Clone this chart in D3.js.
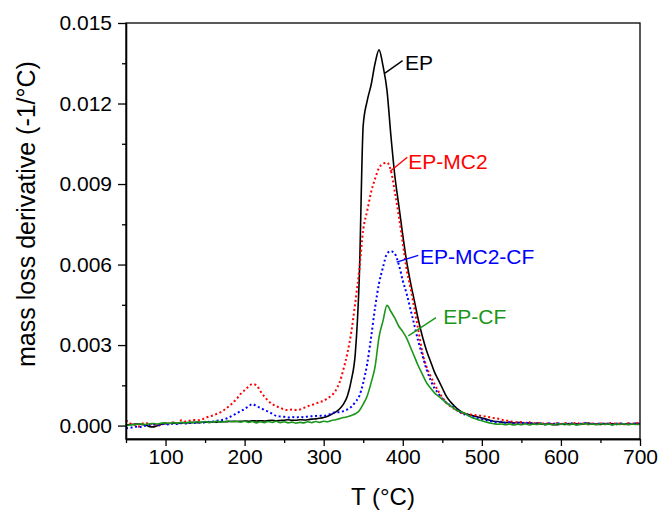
<!DOCTYPE html>
<html>
<head>
<meta charset="utf-8">
<script src="https://cdn.jsdelivr.net/npm/d3@7"></script>
<style>
  body { margin: 0; background: #fff; }
  svg text { font-family: "Liberation Sans", Arial, sans-serif; }
</style>
</head>
<body>
<svg id="chart" width="658" height="512"></svg>
<script>
// temperature grid (°C)
const temps = [
  50, 55, 60, 65, 70, 75, 80, 85, 90, 95,
  100, 105, 110, 115, 120, 125, 130, 135, 140, 145,
  150, 155, 160, 165, 170, 175, 180, 185, 190, 195,
  200, 205, 210, 215, 220, 225, 230, 235, 240, 245,
  250, 255, 260, 265, 270, 275, 280, 285, 290, 295,
  300, 305, 310, 315, 320, 325, 330, 335, 340, 345,
  350, 355, 360, 365, 370, 375, 380, 385, 390, 395,
  400, 405, 410, 415, 420, 425, 430, 435, 440, 445,
  450, 455, 460, 465, 470, 475, 480, 485, 490, 495,
  500, 505, 510, 515, 520, 525, 530, 535, 540, 545,
  550, 555, 560, 565, 570, 575, 580, 585, 590, 595,
  600, 605, 610, 615, 620, 625, 630, 635, 640, 645,
  650, 655, 660, 665, 670, 675, 680, 685, 690, 695,
  700
];

// mass loss derivative (-1/°C), one value per temperature
const ep = [
  0.00002, 0.00004, 0.00005, 0.00006, 0.00004, 0.00002, -0.00004, -0.00005, 0.00000, 0.00005,
  0.00007, 0.00008, 0.00009, 0.00008, 0.00010, 0.00011, 0.00010, 0.00012, 0.00011, 0.00012,
  0.00013, 0.00012, 0.00014, 0.00013, 0.00015, 0.00014, 0.00015, 0.00016, 0.00015, 0.00016,
  0.00017, 0.00016, 0.00018, 0.00017, 0.00018, 0.00017, 0.00019, 0.00020, 0.00018, 0.00019,
  0.00020, 0.00022, 0.00020, 0.00020, 0.00022, 0.00021, 0.00022, 0.00024, 0.00025, 0.00027,
  0.00030, 0.00035, 0.00042, 0.00050, 0.00062, 0.00080, 0.00110, 0.00170, 0.00270, 0.00550,
  0.01120, 0.01210, 0.01270, 0.01350, 0.01400, 0.01340, 0.01250, 0.01080, 0.00930, 0.00820,
  0.00710, 0.00610, 0.00530, 0.00460, 0.00390, 0.00330, 0.00280, 0.00240, 0.00200, 0.00170,
  0.00140, 0.00110, 0.00090, 0.00074, 0.00060, 0.00050, 0.00044, 0.00040, 0.00036, 0.00032,
  0.00028, 0.00024, 0.00020, 0.00016, 0.00015, 0.00013, 0.00011, 0.00012, 0.00010, 0.00011,
  0.00011, 0.00008, 0.00010, 0.00007, 0.00009, 0.00006, 0.00005, 0.00008, 0.00004, 0.00003,
  0.00006, 0.00004, 0.00008, 0.00005, 0.00007, 0.00004, 0.00007, 0.00009, 0.00005, 0.00006,
  0.00004, 0.00008, 0.00005, 0.00007, 0.00004, 0.00006, 0.00005, 0.00007, 0.00005, 0.00008,
  0.00006
];

const epMc2 = [
  0.00020, 0.00008, 0.00004, -0.00004, 0.00006, 0.00010, 0.00005, 0.00008, -0.00002, 0.00006,
  0.00010, 0.00007, 0.00012, 0.00009, 0.00020, 0.00015, 0.00018, 0.00021, 0.00020, 0.00022,
  0.00028, 0.00034, 0.00038, 0.00044, 0.00050, 0.00060, 0.00072, 0.00085, 0.00100, 0.00118,
  0.00132, 0.00145, 0.00155, 0.00150, 0.00128, 0.00108, 0.00092, 0.00080, 0.00072, 0.00066,
  0.00060, 0.00058, 0.00060, 0.00058, 0.00060, 0.00066, 0.00072, 0.00077, 0.00082, 0.00088,
  0.00092, 0.00102, 0.00112, 0.00130, 0.00160, 0.00210, 0.00270, 0.00350, 0.00460, 0.00580,
  0.00730, 0.00800, 0.00870, 0.00920, 0.00960, 0.00975, 0.00980, 0.00950, 0.00870, 0.00780,
  0.00680, 0.00580, 0.00510, 0.00430, 0.00350, 0.00270, 0.00220, 0.00185, 0.00155, 0.00128,
  0.00105, 0.00085, 0.00072, 0.00062, 0.00054, 0.00047, 0.00043, 0.00041, 0.00040, 0.00038,
  0.00036, 0.00034, 0.00031, 0.00028, 0.00026, 0.00022, 0.00019, 0.00017, 0.00014, 0.00012,
  0.00013, 0.00009, 0.00012, 0.00008, 0.00011, 0.00006, 0.00010, 0.00007, 0.00005, 0.00009,
  0.00006, 0.00010, 0.00005, 0.00008, 0.00011, 0.00006, 0.00009, 0.00005, 0.00008, 0.00006,
  0.00009, 0.00005, 0.00008, 0.00010, 0.00006, 0.00008, 0.00005, 0.00009, 0.00007, 0.00010,
  0.00008
];

const epMc2Cf = [
  -0.00010, -0.00008, -0.00006, -0.00003, -0.00005, 0.00000, 0.00002, 0.00004, 0.00001, 0.00005,
  0.00006, 0.00004, 0.00008, 0.00006, 0.00009, 0.00008, 0.00011, 0.00009, 0.00012, 0.00010,
  0.00012, 0.00014, 0.00015, 0.00018, 0.00020, 0.00024, 0.00030, 0.00038, 0.00046, 0.00054,
  0.00062, 0.00072, 0.00080, 0.00072, 0.00066, 0.00058, 0.00052, 0.00044, 0.00036, 0.00034,
  0.00033, 0.00030, 0.00032, 0.00030, 0.00033, 0.00031, 0.00034, 0.00035, 0.00036, 0.00037,
  0.00036, 0.00040, 0.00044, 0.00050, 0.00050, 0.00054, 0.00060, 0.00070, 0.00088, 0.00110,
  0.00160, 0.00230, 0.00330, 0.00440, 0.00530, 0.00590, 0.00640, 0.00650, 0.00640, 0.00600,
  0.00540, 0.00490, 0.00430, 0.00370, 0.00310, 0.00260, 0.00210, 0.00170, 0.00140, 0.00120,
  0.00100, 0.00086, 0.00076, 0.00066, 0.00054, 0.00045, 0.00040, 0.00036, 0.00032, 0.00028,
  0.00024, 0.00020, 0.00017, 0.00015, 0.00012, 0.00014, 0.00010, 0.00012, 0.00008, 0.00011,
  0.00009, 0.00012, 0.00007, 0.00010, 0.00006, 0.00009, 0.00004, 0.00008, 0.00006, 0.00010,
  0.00005, 0.00008, 0.00006, 0.00009, 0.00004, 0.00007, 0.00010, 0.00006, 0.00008, 0.00005,
  0.00009, 0.00006, 0.00008, 0.00004, 0.00007, 0.00009, 0.00005, 0.00008, 0.00006, 0.00009,
  0.00007
];

const epCf = [
  0.00000, 0.00002, 0.00003, 0.00005, 0.00006, 0.00004, 0.00007, 0.00008, 0.00006, 0.00009,
  0.00010, 0.00008, 0.00011, 0.00009, 0.00012, 0.00010, 0.00013, 0.00011, 0.00014, 0.00012,
  0.00015, 0.00012, 0.00014, 0.00016, 0.00013, 0.00015, 0.00017, 0.00014, 0.00016, 0.00013,
  0.00016, 0.00012, 0.00015, 0.00010, 0.00014, 0.00011, 0.00015, 0.00012, 0.00016, 0.00011,
  0.00014, 0.00010, 0.00013, 0.00009, 0.00012, 0.00010, 0.00014, 0.00011, 0.00015, 0.00012,
  0.00016, 0.00014, 0.00019, 0.00022, 0.00026, 0.00030, 0.00033, 0.00038, 0.00044, 0.00055,
  0.00080, 0.00110, 0.00160, 0.00220, 0.00330, 0.00390, 0.00448, 0.00425, 0.00400, 0.00370,
  0.00350, 0.00325, 0.00290, 0.00255, 0.00220, 0.00190, 0.00160, 0.00140, 0.00122, 0.00110,
  0.00098, 0.00085, 0.00074, 0.00064, 0.00054, 0.00050, 0.00042, 0.00034, 0.00027, 0.00022,
  0.00018, 0.00013, 0.00010, 0.00007, 0.00005, 0.00006, 0.00003, 0.00006, 0.00002, 0.00005,
  0.00003, 0.00007, 0.00002, 0.00006, 0.00004, 0.00008, 0.00003, 0.00006, 0.00002, 0.00007,
  0.00004, 0.00007, 0.00003, 0.00006, 0.00002, 0.00005, 0.00008, 0.00004, 0.00006, 0.00003,
  0.00007, 0.00004, 0.00006, 0.00002, 0.00006, 0.00004, 0.00007, 0.00003, 0.00006, 0.00004,
  0.00005
];

const seriesNames = ['EP', 'EP-MC2', 'EP-MC2-CF', 'EP-CF'];
const seriesValues = [ep, epMc2, epMc2Cf, epCf];
const seriesColors = ['#000000', '#ff0000', '#0000ff', '#1a961a'];
const seriesDotted = [false, true, true, false];

const xTicks = [100, 200, 300, 400, 500, 600, 700];
const xMinor = [50, 150, 250, 350, 450, 550, 650];
const yTicks = [0, 0.003, 0.006, 0.009, 0.012, 0.015];
const yMinor = [0.0015, 0.0045, 0.0075, 0.0105, 0.0135];

// label callouts: point on curve -> end of leader, text start (data units)
const labelAnchor = [[377.5, 0.01313], [383.8, 0.00947], [392.3, 0.00609], [407, 0.00334]];
const labelLeader = [[399.8, 0.0136], [405.7, 0.0100], [419.6, 0.00634], [442, 0.00402]];
const labelText = [[402.8, 0.01325], [407, 0.00956], [421.8, 0.00601], [451.2, 0.00378]];

const svg = d3.select('#chart');
const margin = { top: 23, right: 18, bottom: 73, left: 126 };
const width = 658 - margin.left - margin.right;
const height = 512 - margin.top - margin.bottom;

const x = d3.scaleLinear().domain([50, 700]).range([0, width]);
const y = d3.scaleLinear().domain([-0.0005, 0.015]).range([height, 0]);

const g = svg.append('g').attr('transform', `translate(${margin.left},${margin.top})`);

// curves
const line = d3.line()
  .x((d) => x(d[0]))
  .y((d) => y(d[1]))
  .curve(d3.curveMonotoneX);

seriesValues.forEach((vals, i) => {
  const pts = temps.map((t, j) => [t, vals[j]]);
  g.append('path')
    .datum(pts)
    .attr('fill', 'none')
    .attr('stroke', seriesColors[i])
    .attr('stroke-width', seriesDotted[i] ? 2 : 1.6)
    .attr('stroke-dasharray', seriesDotted[i] ? '2,2.6' : null)
    .attr('stroke-linejoin', 'round')
    .attr('d', line);
});

// frame
g.append('rect')
  .attr('width', width)
  .attr('height', height)
  .attr('fill', 'none')
  .attr('stroke', '#000')
  .attr('stroke-width', 1.3);

// axes
g.append('g')
  .attr('transform', `translate(0,${height})`)
  .call(d3.axisBottom(x).tickValues(xTicks).tickSize(7).tickSizeOuter(0).tickPadding(3));
g.append('g')
  .attr('transform', `translate(0,${height})`)
  .call(d3.axisBottom(x).tickValues(xMinor).tickSize(4).tickSizeOuter(0).tickFormat(''));

g.append('g')
  .call(d3.axisLeft(y).tickValues(yTicks).tickSize(8).tickSizeOuter(0).tickPadding(6)
    .tickFormat(d3.format('.3f')));
g.append('g')
  .call(d3.axisLeft(y).tickValues(yMinor).tickSize(4).tickSizeOuter(0).tickFormat(''));

g.selectAll('.domain').attr('stroke-width', 1.3);
g.selectAll('.tick line').attr('stroke-width', 1.3);
g.selectAll('.tick text').attr('font-size', 21).attr('fill', '#000')
  .style('font-family', '"Liberation Sans", Arial, sans-serif');

// axis titles
svg.append('text')
  .attr('x', margin.left + width / 2)
  .attr('y', 505)
  .attr('text-anchor', 'middle')
  .attr('font-size', 24)
  .text('T (°C)');

svg.append('text')
  .attr('transform', 'translate(35,214) rotate(-90)')
  .attr('text-anchor', 'middle')
  .attr('font-size', 25)
  .text('mass loss derivative (-1/°C)');

// callout labels
seriesNames.forEach((name, i) => {
  g.append('line')
    .attr('x1', x(labelAnchor[i][0]))
    .attr('y1', y(labelAnchor[i][1]))
    .attr('x2', x(labelLeader[i][0]))
    .attr('y2', y(labelLeader[i][1]))
    .attr('stroke', seriesColors[i])
    .attr('stroke-width', 1.4);
  g.append('text')
    .attr('x', x(labelText[i][0]))
    .attr('y', y(labelText[i][1]))
    .attr('font-size', 21)
    .attr('fill', seriesColors[i])
    .text(name);
});
</script>
</body>
</html>
